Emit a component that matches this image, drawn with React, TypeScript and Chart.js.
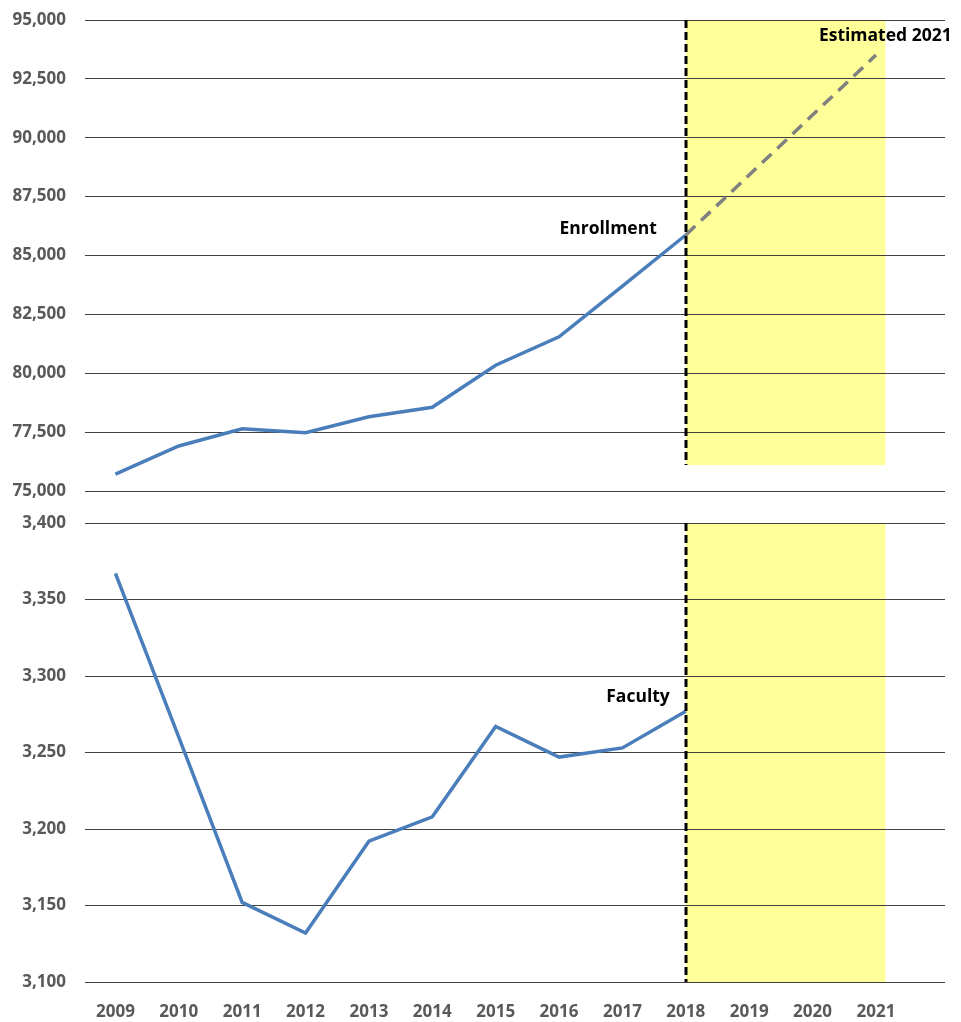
import { useEffect, useRef } from 'react';
import { Chart, registerables } from 'chart.js';

Chart.register(...registerables);

// ---- data ----
const YEARS = [2009, 2010, 2011, 2012, 2013, 2014, 2015, 2016, 2017, 2018, 2019, 2020, 2021];
const DATA_YEARS = [2009, 2010, 2011, 2012, 2013, 2014, 2015, 2016, 2017, 2018];
const ENROLLMENT = [75720, 76910, 77645, 77475, 78155, 78555, 80340, 81550, 83700, 85870];
const FACULTY = [3367, 3260, 3152, 3132, 3192, 3208, 3267, 3247, 3253, 3277];
const ESTIMATE_YEARS = [2018, 2021];
const ESTIMATE_VALUES = [85870, 93510];
const ENROLL_TICKS = [75000, 77500, 80000, 82500, 85000, 87500, 90000, 92500, 95000];
const FACULTY_TICKS = [3100, 3150, 3200, 3250, 3300, 3350, 3400];
const SHADE_FROM = 2018;
const SHADE_TO = 2021.15;
const SHADE_ENROLL_BOTTOM = 76100;

const X_MIN = 2008.52;
const X_MAX = 2022.09;
const FONT = "'Open Sans', 'Liberation Sans', sans-serif";
const TICK_COLOR = '#595959';
const GRID_COLOR = '#404040';
const BLUE = '#4a7ebb';

type Lbl = { text: string; xv: number; yv: number; align: CanvasTextAlign; dx: number; dy: number };

function overlayPlugin(shadeBottom: number | null, labels: Lbl[]) {
  return {
    id: 'overlay',
    beforeDraw(chart: any) {
      const { ctx, chartArea, scales } = chart;
      const x0 = scales.x.getPixelForValue(SHADE_FROM);
      const x1 = scales.x.getPixelForValue(SHADE_TO);
      const yb = shadeBottom == null ? chartArea.bottom : scales.y.getPixelForValue(shadeBottom);
      ctx.save();
      ctx.fillStyle = '#ffff99';
      ctx.fillRect(x0, chartArea.top, x1 - x0, yb - chartArea.top);
      ctx.restore();
    },
    afterDatasetsDraw(chart: any) {
      const { ctx, chartArea, scales } = chart;
      const xl = Math.round(scales.x.getPixelForValue(SHADE_FROM));
      const yb = shadeBottom == null ? chartArea.bottom : scales.y.getPixelForValue(shadeBottom);
      ctx.save();
      ctx.strokeStyle = '#000';
      ctx.lineWidth = 3;
      ctx.setLineDash([8, 4]);
      ctx.beginPath();
      ctx.moveTo(xl, chartArea.top);
      ctx.lineTo(xl, yb);
      ctx.stroke();
      ctx.setLineDash([]);
      ctx.fillStyle = '#000';
      ctx.font = `bold 17.5px ${FONT}`;
      ctx.textBaseline = 'middle';
      for (const l of labels) {
        ctx.textAlign = l.align;
        ctx.fillText(l.text, scales.x.getPixelForValue(l.xv) + l.dx, scales.y.getPixelForValue(l.yv) + l.dy);
      }
      ctx.restore();
    },
  };
}

function xScale(show: boolean) {
  return {
    type: 'linear',
    min: X_MIN,
    max: X_MAX,
    display: show,
    grid: { display: false },
    border: { display: false },
    afterBuildTicks: (s: any) => {
      s.ticks = YEARS.map((v) => ({ value: v }));
    },
    afterFit: (s: any) => {
      if (show) s.height = 40;
      s.paddingLeft = 0;
      s.paddingRight = 0;
    },
    ticks: {
      autoSkip: false,
      maxRotation: 0,
      padding: 12,
      color: TICK_COLOR,
      font: { family: FONT, size: 17, weight: 'bold' },
      callback: (v: any) => String(v),
    },
  };
}

function yScale(min: number, max: number, ticksList: number[]) {
  return {
    type: 'linear',
    min,
    max,
    afterBuildTicks: (s: any) => {
      s.ticks = ticksList.map((v) => ({ value: v }));
    },
    afterFit: (s: any) => {
      s.width = 85;
      s.paddingTop = 0;
      s.paddingBottom = 0;
    },
    grid: { color: GRID_COLOR, lineWidth: 1, drawTicks: false },
    border: { display: false },
    ticks: {
      padding: 19,
      color: TICK_COLOR,
      font: { family: FONT, size: 17, weight: 'bold' },
      callback: (v: any) => Number(v).toLocaleString('en-US'),
    },
  };
}

export default function App() {
  const topRef = useRef<HTMLCanvasElement>(null);
  const botRef = useRef<HTMLCanvasElement>(null);

  useEffect(() => {
    const common = {
      responsive: false,
      animation: false,
      devicePixelRatio: 1,
      plugins: { legend: { display: false }, tooltip: { enabled: false } },
      elements: { point: { radius: 0 }, line: { tension: 0 } },
    };

    const top = new Chart(topRef.current!, {
      type: 'line',
      data: {
        datasets: [
          {
            data: ESTIMATE_YEARS.map((x, i) => ({ x, y: ESTIMATE_VALUES[i] })),
            borderColor: '#808080',
            borderWidth: 3.5,
            borderDash: [13, 8],
            pointRadius: 0,
          },
          {
            data: DATA_YEARS.map((x, i) => ({ x, y: ENROLLMENT[i] })),
            borderColor: BLUE,
            borderWidth: 3.5,
            pointRadius: 0,
          },
        ],
      },
      options: {
        ...common,
        layout: { padding: { top: 20, bottom: 14, right: 16, left: 0 } },
        scales: { x: xScale(false), y: yScale(75000, 95000, ENROLL_TICKS) },
      } as any,
      plugins: [
        overlayPlugin(SHADE_ENROLL_BOTTOM, [
          { text: 'Enrollment', xv: 2018, yv: 85870, align: 'right', dx: -29, dy: -6 },
          { text: 'Estimated 2021', xv: 2021, yv: 93510, align: 'left', dx: -57, dy: -19 },
        ]),
      ],
    } as any);

    const bot = new Chart(botRef.current!, {
      type: 'line',
      data: {
        datasets: [
          {
            data: DATA_YEARS.map((x, i) => ({ x, y: FACULTY[i] })),
            borderColor: BLUE,
            borderWidth: 3.5,
            pointRadius: 0,
          },
        ],
      },
      options: {
        ...common,
        layout: { padding: { top: 18, bottom: 0, right: 16, left: 0 } },
        scales: { x: xScale(true), y: yScale(3100, 3400, FACULTY_TICKS) },
      } as any,
      plugins: [
        overlayPlugin(null, [{ text: 'Faculty', xv: 2018, yv: 3277, align: 'right', dx: -16, dy: -14 }]),
      ],
    } as any);

    return () => {
      top.destroy();
      bot.destroy();
    };
  }, []);

  return (
    <div style={{ position: 'absolute', left: 0, top: 0, width: 961, height: 1022, background: '#fff' }}>
      <canvas ref={topRef} width={961} height={505} style={{ position: 'absolute', left: 0, top: 0, width: 961, height: 505 }} />
      <canvas ref={botRef} width={961} height={517} style={{ position: 'absolute', left: 0, top: 505, width: 961, height: 517 }} />
    </div>
  );
}
